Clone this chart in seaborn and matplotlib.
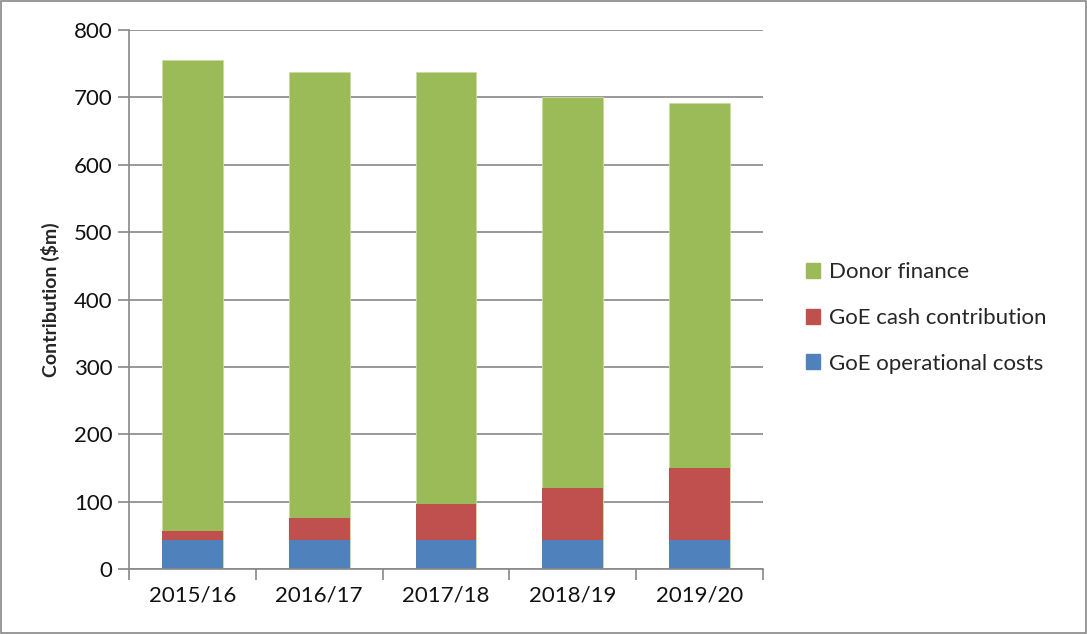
import matplotlib
matplotlib.use("Agg")
import matplotlib.pyplot as plt
import seaborn as sns
import pandas as pd
import numpy as np
from matplotlib.patches import Patch

years = ["2015/16", "2016/17", "2017/18", "2018/19", "2019/20"]
goe_operational = [43, 43, 43, 43, 43]
goe_cash = [14, 32, 54, 77, 107]
donor_finance = [699, 663, 641, 581, 542]

c_green = "#9BBB59"
c_red = "#C0504D"
c_blue = "#4F81BD"

sns.set_theme(style="white")
plt.rcParams['font.family'] = ['Lato', 'DejaVu Sans']

df = pd.DataFrame({"year": years, "op": goe_operational, "cash": goe_cash, "donor": donor_finance})
df["lvl2"] = df["op"] + df["cash"]
df["lvl3"] = df["lvl2"] + df["donor"]

fig = plt.figure(figsize=(10.87, 6.34), dpi=100)
ax = fig.add_axes([129/1087, 1-569/634, (763-129)/1087, (569-30)/634])

sns.barplot(data=df, x="year", y="lvl3", color=c_green, width=0.48, ax=ax, saturation=1, edgecolor="#C9DBA0", linewidth=0.6)
sns.barplot(data=df, x="year", y="lvl2", color=c_red, width=0.48, ax=ax, saturation=1, linewidth=0)
sns.barplot(data=df, x="year", y="op", color=c_blue, width=0.48, ax=ax, saturation=1, linewidth=0)

ax.set_ylim(0, 800)
ax.set_xlim(-0.5, 4.5)
ax.set_yticks(np.arange(0, 801, 100))
ax.yaxis.grid(True, color="#888888", linewidth=1.2)
ax.set_axisbelow(True)
for s in ["top", "right"]:
    ax.spines[s].set_visible(False)
for s in ["left", "bottom"]:
    ax.spines[s].set_color("#888888")
    ax.spines[s].set_linewidth(1.2)

ax.set_xlabel("")
ax.set_ylabel("Contribution ($m)", fontsize=14, fontweight="bold", labelpad=10)
ax.tick_params(axis="y", which="major", length=8, color="#888888", width=1.2, labelsize=16, left=True, pad=4, labelcolor="#111111")
ax.tick_params(axis="x", which="major", length=0, labelsize=16, pad=12, labelcolor="#111111")
ax.set_xticks(np.arange(-0.5, 4.6, 1), minor=True)
ax.tick_params(axis="x", which="minor", length=8, color="#888888", width=1.2, bottom=True)

handles = [Patch(color=c_green, label="Donor finance"),
           Patch(color=c_red, label="GoE cash contribution"),
           Patch(color=c_blue, label="GoE operational costs")]
fig.legend(handles=handles, loc="center left", bbox_to_anchor=(786/1087, 1-318/634),
           frameon=False, fontsize=16, handlelength=0.65, handleheight=0.65,
           handletextpad=0.4, labelspacing=1.15)

fig.patches.append(plt.Rectangle((0.001, 0.001), 0.998, 0.997, transform=fig.transFigure,
                                 fill=False, edgecolor="#888888", linewidth=1.2))

fig.savefig("out.png", dpi=100)
